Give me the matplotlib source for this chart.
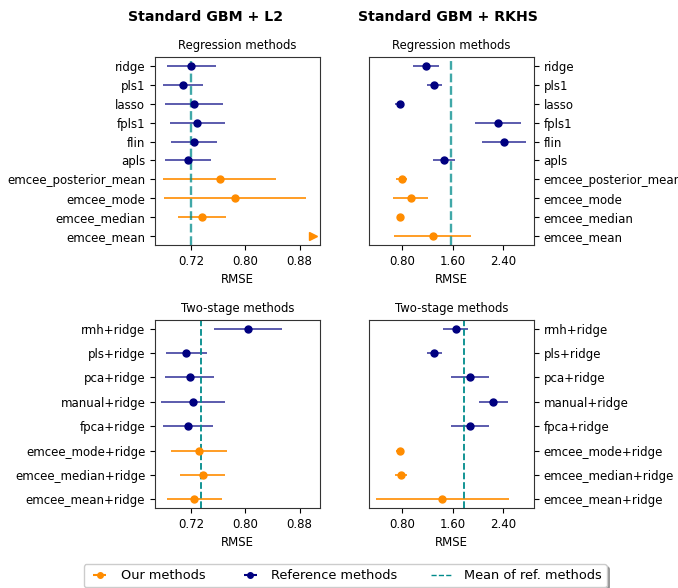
import matplotlib.pyplot as plt
import numpy as np

# --- data ---
reg_labels = ['ridge', 'pls1', 'lasso', 'fpls1', 'flin', 'apls',
              'emcee_posterior_mean', 'emcee_mode', 'emcee_median', 'emcee_mean']
reg_ours = [False, False, False, False, False, False, True, True, True, True]

reg_l2_mean = [0.7205, 0.7078, 0.7244, 0.7293, 0.7244, 0.7156, 0.762, 0.785, 0.736, 1.37]
reg_l2_std = [0.036, 0.0295, 0.043, 0.0405, 0.0335, 0.0345, 0.083, 0.105, 0.0355, 0.60]

reg_rkhs_mean = [1.175, 1.31, 0.76, 2.32, 2.42, 1.455, 0.79, 0.93, 0.76, 1.28]
reg_rkhs_std = [0.211, 0.12, 0.07, 0.37, 0.35, 0.175, 0.085, 0.28, 0.04, 0.61]

ts_labels = ['rmh+ridge', 'pls+ridge', 'pca+ridge', 'manual+ridge', 'fpca+ridge',
             'emcee_mode+ridge', 'emcee_median+ridge', 'emcee_mean+ridge']
ts_ours = [False, False, False, False, False, True, True, True]

ts_l2_mean = [0.804, 0.713, 0.718, 0.723, 0.716, 0.732, 0.737, 0.725]
ts_l2_std = [0.050, 0.030, 0.036, 0.047, 0.0365, 0.041, 0.033, 0.040]

ts_rkhs_mean = [1.645, 1.305, 1.87, 2.24, 1.87, 0.76, 0.78, 1.435]
ts_rkhs_std = [0.193, 0.12, 0.30, 0.23, 0.30, 0.065, 0.095, 1.06]

l2_ticks = [0.72, 0.80, 0.88]
rkhs_ticks = [0.80, 1.60, 2.40]
l2_xlim = (0.667, 0.910)
rkhs_xlim = (0.27, 2.89)

c_ours = 'darkorange'
c_ref = 'navy'
c_mean = 'darkcyan'

plt.rc('font', size=8.5)
fig = plt.figure(figsize=(6.78, 5.88), dpi=100)

W, H = 678, 588
def box(x0, y0, x1, y1):
    return [x0 / W, 1 - y1 / H, (x1 - x0) / W, (y1 - y0) / H]

ax_tl = fig.add_axes(box(155, 57, 320, 245))
ax_tr = fig.add_axes(box(369, 57, 534, 245))
ax_bl = fig.add_axes(box(155, 320, 320, 508))
ax_br = fig.add_axes(box(369, 320, 534, 508))


def panel(ax, labels, ours, vals, errs, xlim, ticks, title, right, lw_mean, a_mean):
    y = np.arange(len(labels))
    vals = np.array(vals)
    errs = np.array(errs)
    ours = np.array(ours)
    lo, hi = xlim
    inside = vals < hi
    for sel, col, ecol in [(ours & inside, c_ours, c_ours),
                           (~ours, c_ref, (0.0, 0.0, 0.5, 0.75))]:
        ax.errorbar(vals[sel], y[sel], xerr=errs[sel], fmt='o', color=col,
                    ecolor=ecol, ms=5, elinewidth=1.2, capsize=0)
    # values beyond the axis drawn as a triangle at the right edge
    out = ours & ~inside
    if out.any():
        ax.plot(np.full(out.sum(), hi - 0.04 * (hi - lo)), y[out], '>',
                color=c_ours, ms=6, clip_on=False)
    ax.axvline(vals[~ours].mean(), color=c_mean, ls='--', lw=lw_mean, alpha=a_mean)
    ax.set_yticks(y)
    ax.set_yticklabels(labels)
    ax.set_ylim(len(labels) - 1 + 0.05 * (len(labels) - 1), -0.05 * (len(labels) - 1))
    ax.set_xlim(xlim)
    ax.set_xticks(ticks)
    ax.set_xticklabels(['%.2f' % t for t in ticks])
    ax.set_xlabel('RMSE')
    ax.set_title(title, fontsize=8.4)
    if right:
        ax.yaxis.tick_right()
    for s in ax.spines.values():
        s.set_color('#333333')


panel(ax_tl, reg_labels, reg_ours, reg_l2_mean, reg_l2_std, l2_xlim, l2_ticks,
      'Regression methods', False, 1.7, 0.75)
panel(ax_tr, reg_labels, reg_ours, reg_rkhs_mean, reg_rkhs_std, rkhs_xlim, rkhs_ticks,
      'Regression methods', True, 1.7, 0.75)
panel(ax_bl, ts_labels, ts_ours, ts_l2_mean, ts_l2_std, l2_xlim, l2_ticks,
      'Two-stage methods', False, 1.3, 1.0)
panel(ax_br, ts_labels, ts_ours, ts_rkhs_mean, ts_rkhs_std, rkhs_xlim, rkhs_ticks,
      'Two-stage methods', True, 1.3, 1.0)

fig.text(206 / W, 1 - 17 / H, 'Standard GBM + L2', ha='center', va='center',
         fontsize=10.2, fontweight='bold')
fig.text(448 / W, 1 - 17 / H, 'Standard GBM + RKHS', ha='center', va='center',
         fontsize=10.2, fontweight='bold')

h_ours = ax_tl.errorbar([], [], xerr=[], fmt='o', color=c_ours, ms=4)
h_ref = ax_tl.errorbar([], [], xerr=[], fmt='o', color=c_ref, ms=4)
h_mean, = ax_tl.plot([], [], color=c_mean, ls='--', lw=1)
fig.legend([h_ours, h_ref, h_mean],
           ['Our methods', 'Reference methods', 'Mean of ref. methods'],
           loc='upper center', bbox_to_anchor=(345 / W, 1 - 564 / H), ncol=3,
           fontsize=9.3, shadow=True, columnspacing=2.6, handlelength=1.7,
           borderaxespad=0)

fig.savefig('out.png', dpi=100)
